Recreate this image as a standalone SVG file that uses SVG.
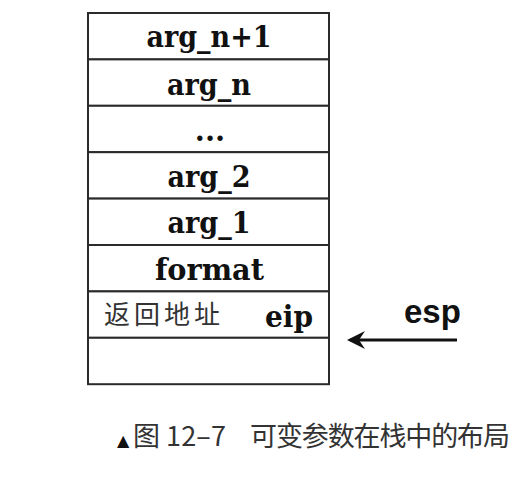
<svg xmlns="http://www.w3.org/2000/svg" width="526" height="502" viewBox="0 0 526 502">
  <style>
    .cell { fill: #ffffff; stroke: #2b2b2b; stroke-width: 2; }
    .lbl { font-family: "DejaVu Serif", "Liberation Serif", serif; font-weight: bold; font-size: 29px; fill: #111111; text-anchor: middle; }
    .cjk { font-family: "Noto Sans CJK SC", "Noto Sans", sans-serif; font-size: 26px; fill: #333333; letter-spacing: 4px; }
    .esp { font-family: "Liberation Sans", Arial, sans-serif; font-weight: bold; font-size: 33px; fill: #111111; }
    .cap { font-family: "Noto Sans CJK SC", "Noto Sans", sans-serif; font-size: 27px; fill: #333333; }
    .conn { stroke: #111111; stroke-width: 3; fill: none; }
  </style>
  <defs>
    <marker id="arr" viewBox="0 0 20 20" refX="17" refY="10" markerWidth="20" markerHeight="20" markerUnits="userSpaceOnUse" orient="auto">
      <path d="M20,10 L2,1 L8,10 L2,19 Z" fill="#111111"/>
    </marker>
  </defs>

  <g id="row-argn1">
    <rect class="cell" x="88" y="13" width="241" height="46.4"/>
    <text class="lbl" x="209" y="47" textLength="125" lengthAdjust="spacingAndGlyphs">arg_n+1</text>
  </g>
  <g id="row-argn">
    <rect class="cell" x="88" y="59.4" width="241" height="46.4"/>
    <text class="lbl" x="209" y="94.5" textLength="84" lengthAdjust="spacingAndGlyphs">arg_n</text>
  </g>
  <g id="row-dots">
    <rect class="cell" x="88" y="105.8" width="241" height="46.4"/>
    <text class="lbl" x="210" y="141">...</text>
  </g>
  <g id="row-arg2">
    <rect class="cell" x="88" y="152.2" width="241" height="46.4"/>
    <text class="lbl" x="209" y="186.7" textLength="83" lengthAdjust="spacingAndGlyphs">arg_2</text>
  </g>
  <g id="row-arg1">
    <rect class="cell" x="88" y="198.6" width="241" height="46.4"/>
    <text class="lbl" x="209" y="233.3" textLength="83" lengthAdjust="spacingAndGlyphs">arg_1</text>
  </g>
  <g id="row-format">
    <rect class="cell" x="88" y="245" width="241" height="46.4"/>
    <text class="lbl" x="209.5" y="280" textLength="109" lengthAdjust="spacingAndGlyphs">format</text>
  </g>
  <g id="row-eip">
    <rect class="cell" x="88" y="291.4" width="241" height="46.4"/>
    <text class="cjk" x="104" y="324">返回地址</text>
    <text class="lbl" x="289" y="326.5" textLength="48" lengthAdjust="spacingAndGlyphs">eip</text>
  </g>
  <g id="row-empty">
    <rect class="cell" x="88" y="337.8" width="241" height="46.4"/>
  </g>

  <g id="esp-pointer">
    <text class="esp" x="404" y="323">esp</text>
  </g>

  <g id="connectors">
    <line class="conn" x1="457" y1="340" x2="350" y2="340" marker-end="url(#arr)"/>
  </g>

  <g id="caption">
    <text x="117" y="446" font-family="DejaVu Sans, sans-serif" font-size="16" fill="#111111">▲</text>
    <text class="cap" x="133" y="446">图</text>
    <text class="cap" x="166" y="446" textLength="60" lengthAdjust="spacing">12–7</text>
    <text class="cap" x="250" y="446" textLength="260" lengthAdjust="spacing">可变参数在栈中的布局</text>
  </g>
</svg>
